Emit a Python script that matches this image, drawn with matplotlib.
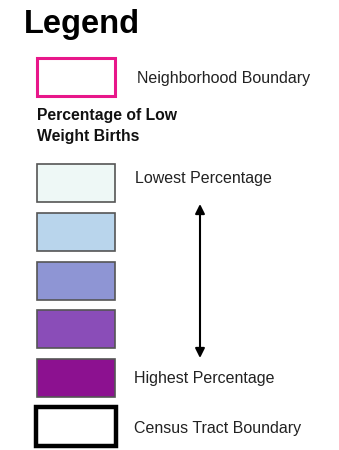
import matplotlib.pyplot as plt
from matplotlib.patches import Rectangle

plt.rcParams['font.family'] = ['Liberation Sans', 'DejaVu Sans']

# legend classes, lowest to highest
class_colors = ['#eef8f6', '#b9d5ec', '#8e95d4', '#8a4db8', '#8c1190']
title = 'Legend'
group_title = 'Percentage of Low\nWeight Births'
low_label = 'Lowest Percentage'
high_label = 'Highest Percentage'
neighborhood_label = 'Neighborhood Boundary'
tract_label = 'Census Tract Boundary'

fig = plt.figure(figsize=(3.39, 4.5), dpi=100)
ax = fig.add_axes([0, 0, 1, 1])
ax.set_xlim(0, 339)
ax.set_ylim(450, 0)
ax.axis('off')

# title
ax.text(24, 24, title, fontsize=23.5, fontweight='bold', va='center', ha='left')

# neighborhood boundary
ax.add_patch(Rectangle((37, 58), 78, 38, fill=False, edgecolor='#e8178a', lw=2.2))
ax.text(137, 79, neighborhood_label, fontsize=11.5, va='center', color='#222222')

# group heading
ax.text(37, 126, group_title, fontsize=11.3, fontweight='bold', va='center',
        linespacing=1.45, color='#111111')

# class boxes
box_tops = [164, 213, 262, 310, 359]
for top, col in zip(box_tops, class_colors):
    ax.add_patch(Rectangle((37, top), 78, 38, facecolor=col, edgecolor='#555555', lw=1.2))
ax.text(135, 178, low_label, fontsize=11.5, va='center', color='#222222')
ax.text(134, 378, high_label, fontsize=11.5, va='center', color='#222222')

# arrow between lowest and highest
ax.annotate('', xy=(200, 204), xytext=(200, 358),
            arrowprops=dict(arrowstyle='<|-|>', color='black', lw=1.5,
                            mutation_scale=14, shrinkA=0, shrinkB=0))

# census tract boundary
ax.add_patch(Rectangle((36, 407), 80, 39, fill=False, edgecolor='black', lw=3.2))
ax.text(134, 428, tract_label, fontsize=11.5, va='center', color='#222222')

fig.savefig('out.png', dpi=100, facecolor='white')
